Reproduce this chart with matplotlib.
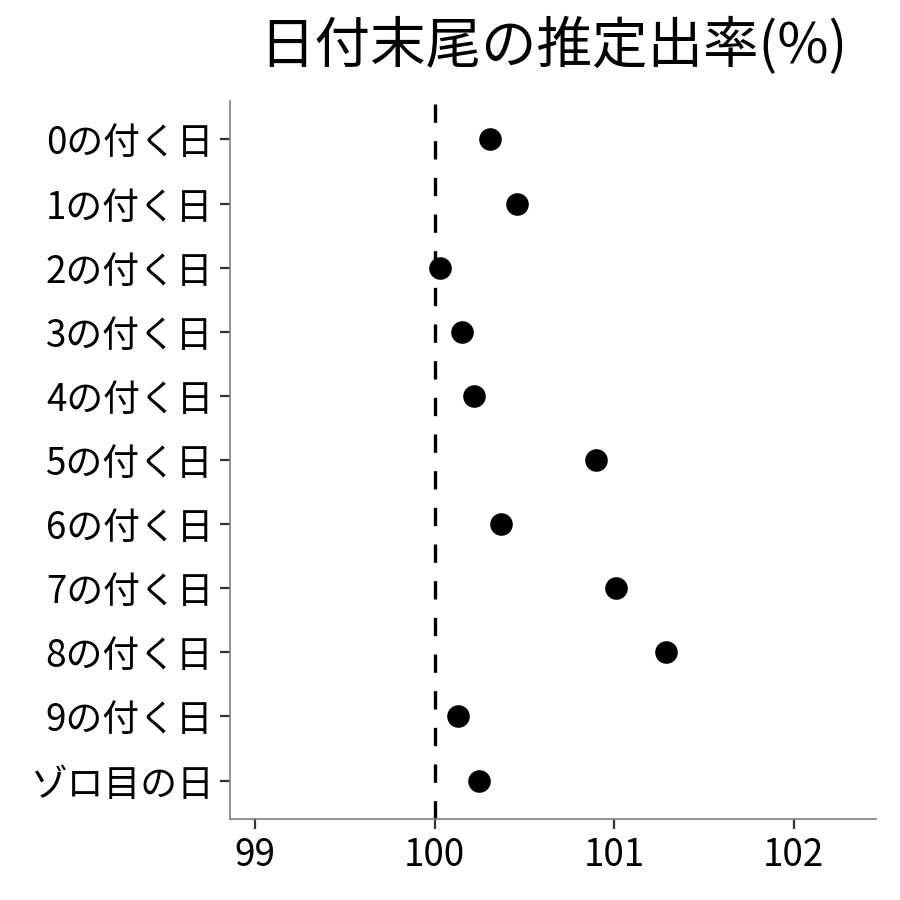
import numpy as np
import matplotlib
matplotlib.use("Agg")
import matplotlib.pyplot as plt

plt.rcParams['font.family'] = ['Noto Sans CJK JP', 'DejaVu Sans']

# categories, top to bottom
labels = ["0の付く日", "1の付く日", "2の付く日", "3の付く日", "4の付く日",
          "5の付く日", "6の付く日", "7の付く日", "8の付く日", "9の付く日",
          "ゾロ目の日"]
# estimated rate (%)
rates = [100.31, 100.46, 100.03, 100.15, 100.22,
         100.90, 100.37, 101.01, 101.29, 100.13, 100.25]
xticks = [99, 100, 101, 102]
ref_line = 100

fig = plt.figure(figsize=(9, 9), dpi=100)
ax = fig.add_axes([0.2556, 0.0900, 0.7178, 0.7978])

y = np.arange(len(labels))
ax.axvline(ref_line, color="black", lw=2.4, linestyle=(0, (5.5, 5.5)), zorder=1)
ax.scatter(rates, y, s=265, color="black", zorder=3, linewidths=0)

ax.set_yticks(y)
ax.set_yticklabels(labels)
ax.set_ylim(len(labels) - 1 + 0.6, -0.6)
ax.set_xticks(xticks)
ax.set_xlim(98.86, 102.46)

for s in ["top", "right"]:
    ax.spines[s].set_visible(False)
for s in ["left", "bottom"]:
    ax.spines[s].set_color("#7f7f7f")
    ax.spines[s].set_linewidth(1.2)

ax.tick_params(axis="both", length=7, width=1.6, color="#333333",
               labelsize=26.5, labelcolor="black", pad=5)

ax.set_title("日付末尾の推定出率(%)", fontsize=40, pad=27)

fig.savefig("out.png", dpi=100)
